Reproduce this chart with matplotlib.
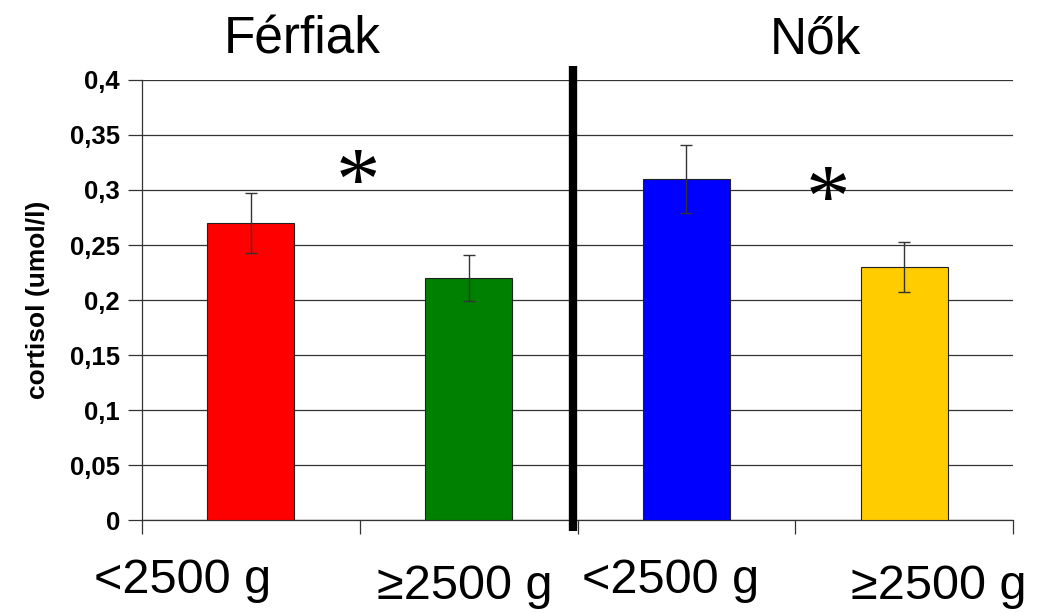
import matplotlib
matplotlib.use("Agg")
import matplotlib.pyplot as plt
from matplotlib.transforms import blended_transform_factory

plt.rcParams['font.family'] = ['Liberation Sans', 'DejaVu Sans']

# Data
groups = ["Férfiak", "Nők"]
categories = ["<2500 g", "\u22652500 g", "<2500 g", "\u22652500 g"]
values = [0.27, 0.22, 0.31, 0.23]
errors = [0.027, 0.021, 0.031, 0.023]
colors = ["#FF0000", "#008000", "#0000FF", "#FFCC00"]
yticks = [0, 0.05, 0.1, 0.15, 0.2, 0.25, 0.3, 0.35, 0.4]
ytick_labels = ["0", "0,05", "0,1", "0,15", "0,2", "0,25", "0,3", "0,35", "0,4"]

fig = plt.figure(figsize=(10.42, 6.13), dpi=100)
ax = fig.add_axes([0.1363, 0.1517, 0.8359, 0.7178])

x = list(range(len(values)))
ax.bar(x, values, width=0.4, color=colors, edgecolor="#222222", linewidth=0.8, zorder=3)
ax.errorbar(x, values, yerr=errors, fmt="none", ecolor="#333333",
            elinewidth=1.0, capsize=4.5, capthick=1.0, zorder=4)

ax.set_xlim(-0.5, 3.5)
ax.set_ylim(0, 0.4)
ax.set_yticks(yticks)
ax.set_yticklabels(ytick_labels, fontsize=18.5, fontweight="bold")
ax.yaxis.grid(True, color="#333333", linewidth=0.9, zorder=0)
ax.set_axisbelow(True)
ax.tick_params(axis="y", length=10, width=0.9, color="#333333", pad=6)
ax.set_xticks([-0.5, 0.5, 1.5, 2.5, 3.5])
ax.set_xticklabels([])
ax.tick_params(axis="x", length=10, width=0.9, color="#333333", direction="out")
for side in ("top", "right"):
    ax.spines[side].set_visible(False)
for side in ("left", "bottom"):
    ax.spines[side].set_color("#333333")
    ax.spines[side].set_linewidth(0.9)

ax.set_ylabel("cortisol (umol/l)", fontsize=19, fontweight="bold", labelpad=14)

# Divider between the two groups
ax.plot([1.48, 1.48], [-0.01, 0.4127], color="black", linewidth=6, clip_on=False,
        solid_capstyle="butt", zorder=5)

# Category labels under the axis
label_x = [-0.312, 0.983, 1.929, 3.160]
label_y = [0.053, 0.043, 0.053, 0.043]
trans = blended_transform_factory(ax.transData, fig.transFigure)
for lx, ly, lab in zip(label_x, label_y, categories):
    ax.text(lx, ly, lab, transform=trans, ha="center", va="center", fontsize=35)

# Group titles
fig.text(302 / 1042, 1 - 40 / 613, groups[0], ha="center", va="center", fontsize=37)
fig.text(815 / 1042, 1 - 40 / 613, groups[1], ha="center", va="center", fontsize=37)

# Significance markers
ax.text(0.492, 0.303, "*", ha="center", va="center", fontsize=64,
        family="Liberation Serif", zorder=6)
ax.text(2.65, 0.288, "*", ha="center", va="center", fontsize=64,
        family="Liberation Serif", zorder=6)

fig.savefig("out.png", dpi=100, facecolor="white")
